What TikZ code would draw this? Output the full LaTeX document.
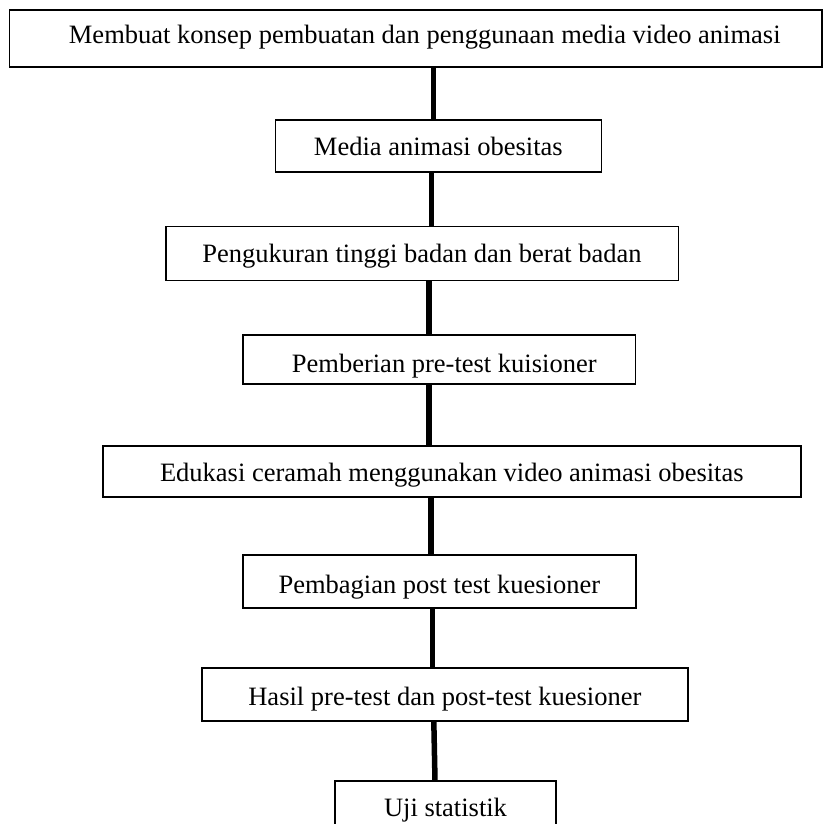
\documentclass[tikz,border=0pt]{standalone}
\usepackage{fontspec}
\setmainfont{Liberation Serif}
\begin{document}
\begin{tikzpicture}[x=1pt,y=-1pt,
  box/.style={draw, line width=1.6pt, rectangle, inner sep=0pt, outer sep=0pt,
    font=\fontsize{26.5}{30}\selectfont},
  conn/.style={line width=5.5pt}]
\useasboundingbox (0,0) rectangle (825,823);
\clip (0,0) rectangle (825,823);
\node[box, minimum width=812.5pt, minimum height=57pt, text height=20pt, text depth=10pt] (b1) at (415.75,38.5) {\hspace*{18pt}Membuat konsep pembuatan dan penggunaan media video animasi};
\node[box, minimum width=326.1pt, minimum height=52pt, text height=24pt, text depth=6pt] (b2) at (438.35,146) {Media animasi obesitas};
\node[box, minimum width=512.6pt, minimum height=54pt, text height=24pt, text depth=6pt] (b3) at (422,253.5) {Pengukuran tinggi badan dan berat badan};
\node[box, minimum width=392.5pt, minimum height=49pt, text height=28pt, text depth=2pt] (b4) at (439.25,359.5) {\hspace*{10pt}Pemberian pre-test kuisioner};
\node[box, minimum width=697.8pt, minimum height=50.7pt, text height=25pt, text depth=5pt] (b5) at (451.8,471.35) {Edukasi ceramah menggunakan video animasi obesitas};
\node[box, minimum width=393.3pt, minimum height=53pt, text height=27pt, text depth=3pt] (b6) at (439.35,581.5) {Pembagian post test kuesioner};
\node[box, minimum width=486.3pt, minimum height=52.7pt, text height=25.7pt, text depth=4.3pt] (b7) at (444.85,694.35) {Hasil pre-test dan post-test kuesioner};
\node[box, minimum width=221pt, minimum height=54.3pt, text height=23.5pt, text depth=6.5pt] (b8) at (445.5,807.85) {Uji statistik};
\draw[conn] (b1.south -| 433.3,0) -- (b2.north -| 433.3,0);
\draw[conn] (b2.south -| 431.7,0) -- (b3.north -| 431.7,0);
\draw[conn] (b3.south -| 429,0) -- (b4.north -| 429,0);
\draw[conn] (b4.south -| 429,0) -- (b5.north -| 429,0);
\draw[conn] (b5.south -| 430.8,0) -- (b6.north -| 430.8,0);
\draw[conn] (b6.south -| 432.7,0) -- (b7.north -| 432.7,0);
\draw[conn] (b7.south -| 433.8,0) -- (b8.north -| 435,0);
\end{tikzpicture}
\end{document}
